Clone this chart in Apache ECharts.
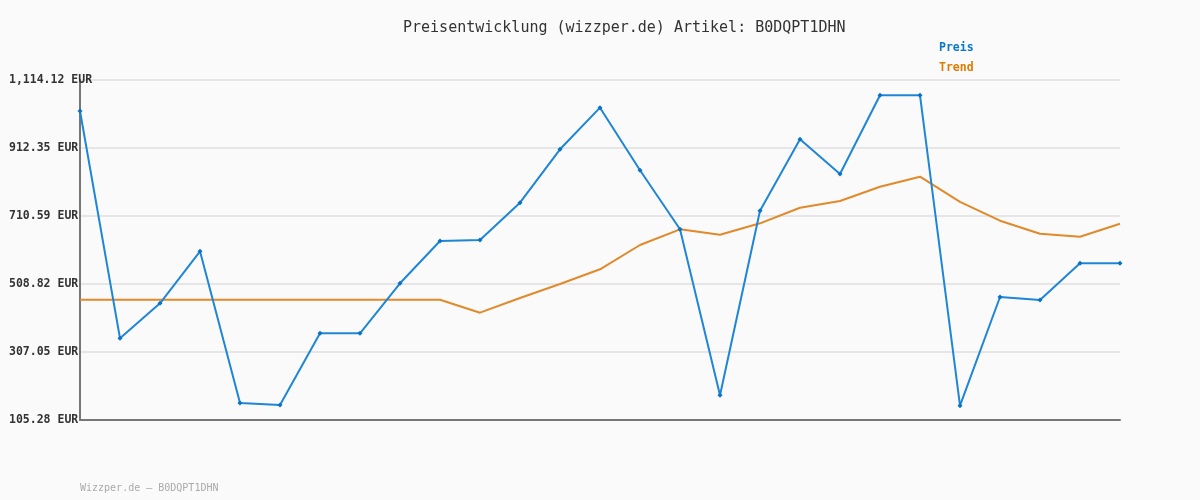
<!DOCTYPE html>
<html>
<head>
<meta charset="utf-8">
<script src="https://cdn.jsdelivr.net/npm/echarts@6/dist/echarts.min.js"></script>
<style>
  html, body { margin: 0; padding: 0; background: #fafafa; }
  #chart { width: 1200px; height: 500px; }
</style>
</head>
<body>
<div id="chart"></div>
<script>
const categories = ['1', '2', '3', '4', '5', '6', '7', '8', '9', '10', '11', '12', '13', '14',
  '15', '16', '17', '18', '19', '20', '21', '22', '23', '24', '25', '26', '27']
const preis = [1022.1, 347.6, 451.5, 605.7, 155.7, 149.8, 362.5, 362.5, 510.9, 636.4, 639.4, 750.0, 908.5, 1032.0,
  846.2, 671.1, 178.5, 726.3, 938.1, 835.2, 1068.7, 1068.7, 147.7, 470.2, 461.3, 570.2, 570.2]
const trend = [462.2, 462.2, 462.2, 462.2, 462.2, 462.2, 462.2, 462.2, 462.2, 462.2, 423.7, 467.3, 508.8, 552.4,
  624.5, 671.1, 655.1, 688.9, 735.2, 755.1, 797.5, 827.2, 752.5, 696.6, 658.1, 649.2, 687.7]
const yTickLabels = ['105.28 EUR', '307.05 EUR', '508.82 EUR', '710.59 EUR', '912.35 EUR', '1,114.12 EUR']
const yMin = 105.28
const yMax = 1114.12

const mono = 'DejaVu Sans Mono'
const chart = echarts.init(document.getElementById('chart'))

chart.setOption({
  backgroundColor: '#fafafa',
  animation: false,
  title: [{
    text: 'Preisentwicklung (wizzper.de) Artikel: B0DQPT1DHN',
    left: 403,
    top: 21,
    padding: 0,
    textStyle: { fontFamily: mono, fontSize: 15, fontWeight: 'normal', color: '#333' }
  }, {
    text: 'Wizzper.de – B0DQPT1DHN',
    left: 80,
    top: 483,
    padding: 0,
    textStyle: { fontFamily: mono, fontSize: 10, fontWeight: 'normal', color: '#aaa' }
  }],
  legend: {
    orient: 'vertical',
    left: 934,
    top: 42,
    padding: 0,
    itemWidth: 0,
    itemHeight: 0,
    itemGap: 8,
    selectedMode: false,
    textStyle: { fontFamily: mono, fontSize: 11.5, fontWeight: 'bold' },
    data: [
      { name: 'Preis', icon: 'rect', textStyle: { color: '#0a78c8' } },
      { name: 'Trend', icon: 'rect', textStyle: { color: '#e07b00' } }
    ]
  },
  grid: { left: 80, right: 80, top: 80, bottom: 80 },
  xAxis: {
    type: 'category',
    data: categories,
    boundaryGap: false,
    axisLine: { lineStyle: { color: '#777', width: 2 } },
    axisTick: { show: false },
    axisLabel: { show: false },
    splitLine: { show: false }
  },
  yAxis: [{
    // data axis, drawn invisibly
    type: 'value',
    min: yMin,
    max: yMax,
    show: false,
    splitLine: { show: false }
  }, {
    // tick / grid axis
    type: 'value',
    min: 0,
    max: 5,
    interval: 1,
    position: 'left',
    axisLine: { show: true, lineStyle: { color: '#777', width: 2 } },
    axisTick: { show: false },
    axisLabel: {
      align: 'left',
      margin: 71,
      fontFamily: mono,
      fontSize: 11.5,
      fontWeight: 'bold',
      color: '#333',
      formatter: (v) => yTickLabels[v]
    },
    splitLine: { lineStyle: { color: '#e6e6e6', width: 2 } }
  }],
  series: [{
    name: 'Preis',
    type: 'line',
    yAxisIndex: 0,
    data: preis,
    symbol: 'diamond',
    symbolSize: 5,
    itemStyle: { color: '#0a72c4' },
    lineStyle: { color: '#1f86d6', width: 2 },
    z: 3
  }, {
    name: 'Trend',
    type: 'line',
    yAxisIndex: 0,
    data: trend,
    symbol: 'none',
    itemStyle: { color: '#e08a2a' },
    lineStyle: { color: '#e08a2a', width: 2 },
    z: 2
  }]
})
</script>
</body>
</html>
